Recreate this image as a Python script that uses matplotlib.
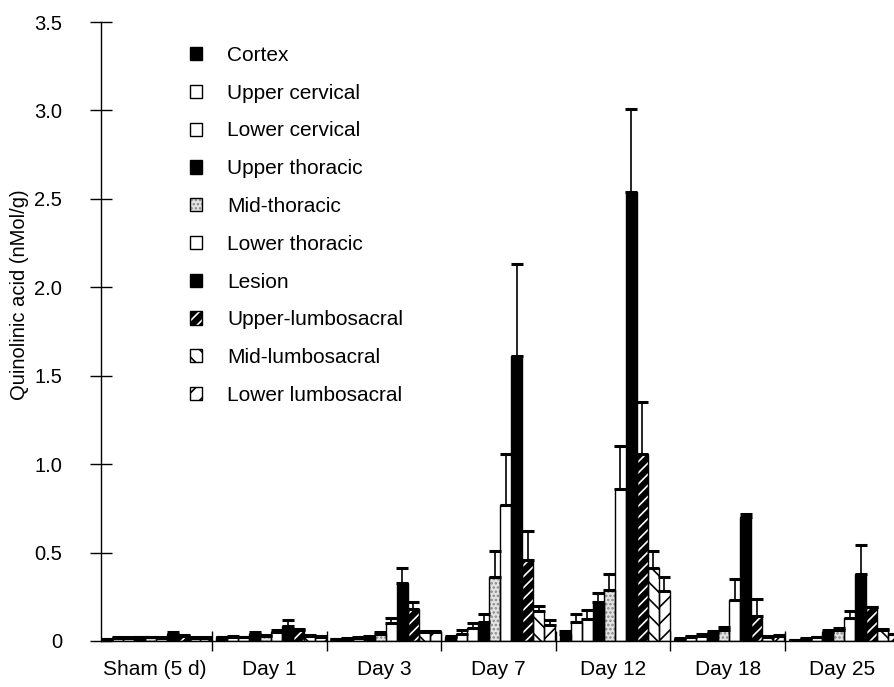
import numpy as np
import matplotlib
matplotlib.use("Agg")
import matplotlib.pyplot as plt
from matplotlib.patches import Patch
from matplotlib.legend_handler import HandlerTuple

plt.rcParams['font.family'] = ['Liberation Sans', 'DejaVu Sans']
plt.rcParams['hatch.linewidth'] = 1.2

days = ['Sham (5 d)', 'Day 1', 'Day 3', 'Day 7', 'Day 12', 'Day 18', 'Day 25']
regions = ['Cortex', 'Upper cervical', 'Lower cervical', 'Upper thoracic',
           'Mid-thoracic', 'Lower thoracic', 'Lesion', 'Upper-lumbosacral',
           'Mid-lumbosacral', 'Lower lumbosacral']

# mean quinolinic acid per region, one value per day (nMol/g)
cortex    = [0.010, 0.020, 0.010, 0.020, 0.040, 0.010, 0.005]
up_cerv   = [0.015, 0.025, 0.010, 0.040, 0.110, 0.020, 0.010]
low_cerv  = [0.015, 0.020, 0.015, 0.075, 0.125, 0.030, 0.020]
up_thor   = [0.020, 0.040, 0.025, 0.110, 0.220, 0.045, 0.050]
mid_thor  = [0.020, 0.030, 0.040, 0.360, 0.290, 0.060, 0.060]
low_thor  = [0.015, 0.050, 0.100, 0.770, 0.860, 0.230, 0.130]
lesion    = [0.040, 0.085, 0.330, 1.610, 2.540, 0.700, 0.380]
up_lumbo  = [0.030, 0.060, 0.180, 0.460, 1.060, 0.140, 0.190]
mid_lumbo = [0.015, 0.030, 0.050, 0.170, 0.410, 0.020, 0.060]
low_lumbo = [0.015, 0.025, 0.050, 0.090, 0.280, 0.030, 0.040]

# upper error (SEM)
cortex_err    = [0.000, 0.005, 0.000, 0.010, 0.015, 0.005, 0.000]
up_cerv_err   = [0.005, 0.005, 0.005, 0.020, 0.040, 0.010, 0.005]
low_cerv_err  = [0.005, 0.005, 0.005, 0.025, 0.050, 0.010, 0.005]
up_thor_err   = [0.005, 0.010, 0.005, 0.040, 0.050, 0.010, 0.010]
mid_thor_err  = [0.005, 0.005, 0.010, 0.150, 0.090, 0.020, 0.015]
low_thor_err  = [0.005, 0.010, 0.030, 0.290, 0.240, 0.120, 0.040]
lesion_err    = [0.010, 0.035, 0.080, 0.520, 0.470, 0.020, 0.160]
up_lumbo_err  = [0.005, 0.010, 0.040, 0.160, 0.290, 0.100, 0.000]
mid_lumbo_err = [0.005, 0.005, 0.005, 0.030, 0.100, 0.010, 0.010]
low_lumbo_err = [0.005, 0.005, 0.005, 0.030, 0.080, 0.005, 0.000]

means = [cortex, up_cerv, low_cerv, up_thor, mid_thor, low_thor, lesion,
         up_lumbo, mid_lumbo, low_lumbo]
errs = [cortex_err, up_cerv_err, low_cerv_err, up_thor_err, mid_thor_err,
        low_thor_err, lesion_err, up_lumbo_err, mid_lumbo_err, low_lumbo_err]

# (fill colour, hatch, hatch colour)
styles = [('black', None, 'black'),
          ('white', None, 'black'),
          ('white', None, 'black'),
          ('black', None, 'black'),
          ('#e4e4e4', '....', '#888888'),
          ('white', None, 'black'),
          ('black', None, 'black'),
          ('black', '///', 'white'),
          ('white', '\\\\', 'black'),
          ('white', '//', 'black')]

fig = plt.figure(figsize=(8.95, 6.87), dpi=100)
ax = fig.add_axes([101 / 895, 46 / 687, 794 / 895, 619 / 687])

group_px = 114.6
x0 = (101 - 97.4) / group_px
ax.set_xlim(x0, x0 + 794 / group_px)
ax.set_ylim(0, 3.5)

width = 0.096
base = np.arange(len(days))
handles = []
for j, (m, e, (fc, hatch, hc)) in enumerate(zip(means, errs, styles)):
    xs = base + 0.035 + j * width
    ax.bar(xs, m, width=width, align='edge', color=fc, hatch=hatch,
           edgecolor=hc, linewidth=0, zorder=2)
    ax.bar(xs, m, width=width, align='edge', facecolor='none',
           edgecolor='black', linewidth=1.0, zorder=3)
    ax.errorbar(xs + width / 2, m, yerr=[np.zeros(len(m)), e], fmt='none',
                ecolor='black', elinewidth=1.2, capsize=4, capthick=2.2,
                zorder=4)
    handles.append((Patch(facecolor=fc, hatch=hatch, edgecolor=hc, linewidth=0),
                    Patch(facecolor='none', edgecolor='black', linewidth=1.0)))

for s in ['top', 'right']:
    ax.spines[s].set_visible(False)
ax.spines['left'].set_linewidth(1.0)
ax.spines['bottom'].set_linewidth(1.0)

yt = [0, 0.5, 1.0, 1.5, 2.0, 2.5, 3.0, 3.5]
ax.set_yticks(yt)
ax.set_yticklabels(['0'] + ['%.1f' % v for v in yt[1:]])
ax.tick_params(axis='y', direction='inout', length=16, width=1, pad=20,
               labelsize=14.5)

ax.set_xticks(np.arange(1, len(days)))
ax.set_xticklabels([])
ax.tick_params(axis='x', which='major', direction='inout', length=14, width=1)
ax.set_xticks(base + 0.5, minor=True)
ax.set_xticklabels(days, minor=True)
ax.tick_params(axis='x', which='minor', length=0, pad=14, labelsize=15)

fig.text(20 / 895, 1 - 295 / 687, 'Quinolinic acid (nMol/g)', rotation=90,
         ha='center', va='center', fontsize=14.5)

ax.legend(handles, regions, handler_map={tuple: HandlerTuple(ndivide=1)},
          loc='upper left', bbox_to_anchor=(190 / 895, 1 - 46 / 687),
          bbox_transform=fig.transFigure, frameon=False, fontsize=15,
          handlelength=0.6, handleheight=0.6, handletextpad=1.2,
          labelspacing=0.9, borderpad=0, borderaxespad=0)

fig.savefig('out.png', dpi=100)
